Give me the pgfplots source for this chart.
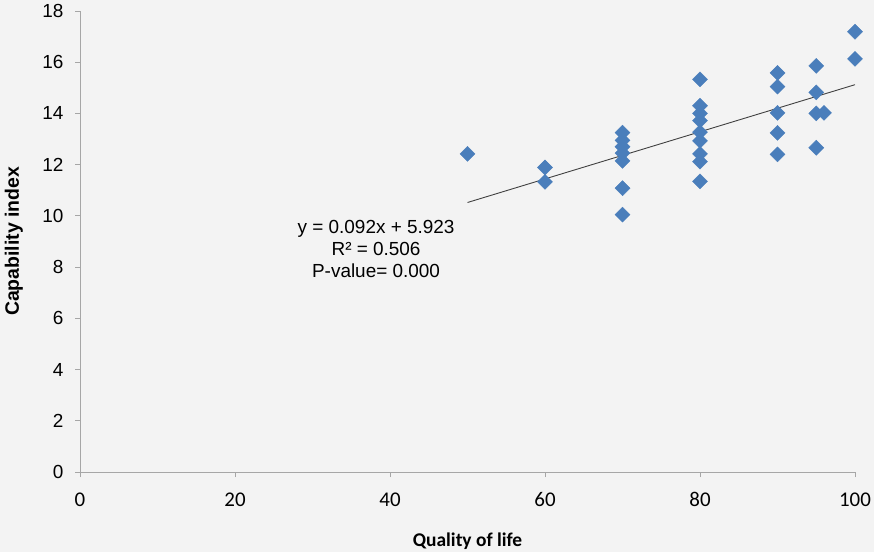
\documentclass[border=0pt]{standalone}
\usepackage{pgfplots}
\pgfplotsset{compat=1.18}
\usepackage{fontspec}
\setmainfont{Liberation Sans}
\newfontfamily\carlito{Carlito}
\definecolor{bg}{HTML}{F3F3F3}
\definecolor{mk}{HTML}{4A7EBB}
\definecolor{axc}{HTML}{A6A6A6}
\begin{document}
\begin{tikzpicture}
\fill[bg] (-80bp,-80bp) rectangle (794bp,472bp);
\begin{axis}[
  at={(0,0)}, anchor=south west,
  scale only axis, width=775bp, height=461bp,
  xmin=0, xmax=100, ymin=0, ymax=18,
  axis lines*=left,
  xtick={0,20,...,100}, ytick={0,2,...,18},
  tick align=outside, major tick length=5bp,
  tick style={axc, line width=0.8pt},
  axis line style={axc, line width=1pt},
  /pgf/number format/assume math mode=true,
  yticklabel style={font=\fontsize{19}{19}\selectfont, xshift=-8bp},
  xticklabel style={font=\carlito\fontsize{21}{21}\selectfont, yshift=-12bp},
  xlabel={\carlito\bfseries Quality of life},
  ylabel={\bfseries Capability index},
  xlabel style={at={(axis description cs:0.5,-0.1497)}, anchor=center, font=\fontsize{19.5}{19.5}\selectfont},
  ylabel style={at={(axis description cs:-0.0852,0.5)}, anchor=center, font=\fontsize{19.5}{19.5}\selectfont},
  clip=false,
]
\addplot[only marks, mark=square*, mark size=5.3bp, mark options={rotate=45, fill=mk, draw=mk}] coordinates {
(50,12.42)
(60,11.89) (60,11.33)
(70,13.25) (70,12.95) (70,12.7) (70,12.45) (70,12.15) (70,11.08) (70,10.05)
(80,15.33) (80,14.3) (80,14.0) (80,13.72) (80,13.27) (80,12.93) (80,12.42) (80,12.12) (80,11.35)
(90,15.58) (90,15.05) (90,14.02) (90,13.24) (90,12.4)
(95,15.86) (95,14.82) (95,14.0) (95,12.66)
(96,14.02)
(100,17.19) (100,16.13)
};
\addplot[black!75, line width=0.9pt] coordinates {(50,10.523) (100,15.123)};
\node[align=center, font=\fontsize{19}{22.5}\selectfont] at (axis cs:38.2,8.71) {y = 0.092x + 5.923\\R² = 0.506\\P-value= 0.000};
\end{axis}
\pgfresetboundingbox
\path (-80bp,-80bp) rectangle (794bp,472bp);
\end{tikzpicture}
\end{document}
